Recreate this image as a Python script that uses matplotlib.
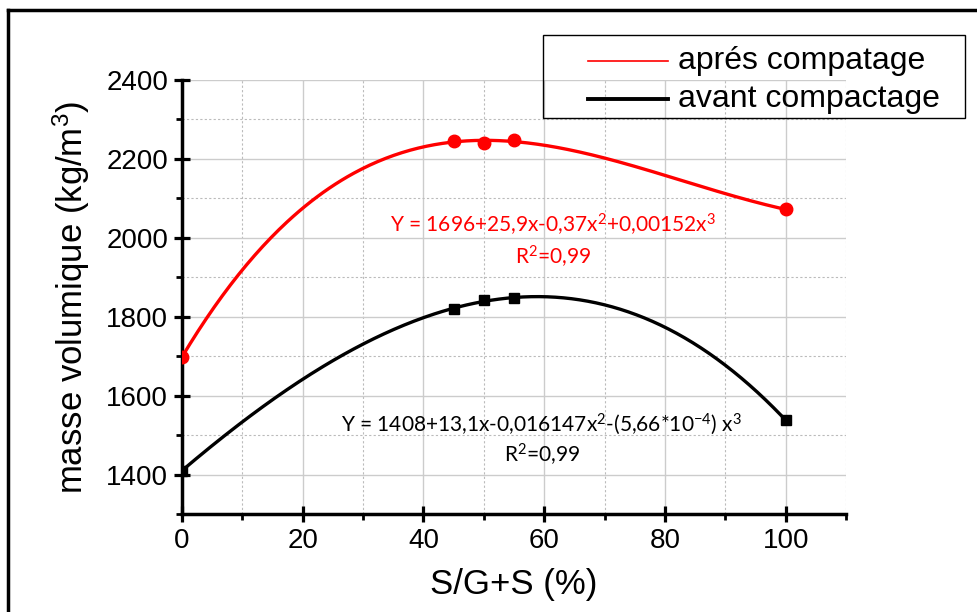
import matplotlib
matplotlib.use("Agg")
import matplotlib.pyplot as plt
import numpy as np
from matplotlib.lines import Line2D
from matplotlib.patches import Rectangle
from matplotlib.ticker import MultipleLocator

# data
x_pts = [0, 45, 50, 55, 100]
apres = [1698, 2246, 2241, 2247, 2072]
avant = [1410, 1820, 1842, 1847, 1538]

labels = ["aprés compatage", "avant compactage"]
eq_apres = "Y = 1696+25,9x-0,37x$\\mathregular{^2}$+0,00152x$\\mathregular{^3}$\nR$\\mathregular{^2}$=0,99"
eq_avant = "Y = 1408+13,1x-0,016147x$\\mathregular{^2}$-(5,66*10$\\mathregular{^{-4}}$) x$\\mathregular{^3}$\nR$\\mathregular{^2}$=0,99"

plt.rcParams["font.family"] = ["Liberation Sans", "DejaVu Sans"]

W, H = 978, 612
fig = plt.figure(figsize=(W / 100, H / 100), dpi=100)
ax = fig.add_axes([182 / W, 1 - 514 / H, (846 - 182) / W, (514 - 80) / H])

# cubic trend lines fitted on the points
xs = np.linspace(0, 100, 300)
fit_r = np.polyfit(x_pts, apres, 3)
fit_k = np.polyfit(x_pts, avant, 3)

ax.plot(xs, np.polyval(fit_r, xs), color="red", lw=2.4, zorder=3)
ax.plot(xs, np.polyval(fit_k, xs), color="black", lw=2.4, zorder=3)
ax.plot(x_pts, apres, "o", color="red", ms=9, zorder=4)
ax.plot(x_pts, avant, "s", color="black", ms=7.5, zorder=4)

ax.set_xlim(0, 110)
ax.set_ylim(1300, 2400)
ax.set_xticks([0, 20, 40, 60, 80, 100])
ax.set_yticks([1400, 1600, 1800, 2000, 2200, 2400])
ax.xaxis.set_minor_locator(MultipleLocator(10))
ax.yaxis.set_minor_locator(MultipleLocator(100))

ax.grid(True, which="major", color="#cccccc", lw=1)
ax.grid(True, which="minor", color="#bbbbbb", lw=0.8, ls=(0, (2, 2)))
ax.set_axisbelow(True)

for s in ["top", "right"]:
    ax.spines[s].set_visible(False)
for s in ["left", "bottom"]:
    ax.spines[s].set_linewidth(2.5)

ax.tick_params(which="major", direction="inout", length=12, width=2.3, labelsize=20, pad=4)
ax.tick_params(which="minor", direction="out", length=4, width=2)

ax.set_xlabel("S/G+S (%)", fontsize=25, labelpad=10)
ax.set_ylabel("masse volumique (kg/m$\\mathregular{^3}$)", fontsize=25, labelpad=10)

ax.text(61.4, 1992, eq_apres, color="red", fontsize=15, family="Lato",
        ha="center", va="center", linespacing=1.25)
ax.text(59.6, 1489, eq_avant, color="black", fontsize=15, family="Lato",
        ha="center", va="center", linespacing=1.25)

# legend box drawn by hand to match the original spacing
fig.add_artist(Rectangle((543 / W, 1 - 118 / H), (965 - 543) / W, (118 - 35) / H,
                         transform=fig.transFigure, fill=False, ec="black", lw=1.0))
for lbl, col, lw, yy in [(labels[0], "red", 1.2, 61), (labels[1], "black", 2.8, 99)]:
    fig.add_artist(Line2D([588 / W, 668 / W], [1 - yy / H, 1 - yy / H], color=col, lw=lw,
                          transform=fig.transFigure))
    fig.text(678 / W, 1 - yy / H, lbl, fontsize=23, va="center", ha="left")

# outer frame of the figure
fig.add_artist(Line2D([8 / W, 8 / W], [0, 1 - 10 / H], color="black", lw=2.5,
                      transform=fig.transFigure))
fig.add_artist(Line2D([8 / W, 1], [1 - 10 / H, 1 - 10 / H], color="black", lw=2.5,
                      transform=fig.transFigure))

fig.savefig("out.png", dpi=100)
